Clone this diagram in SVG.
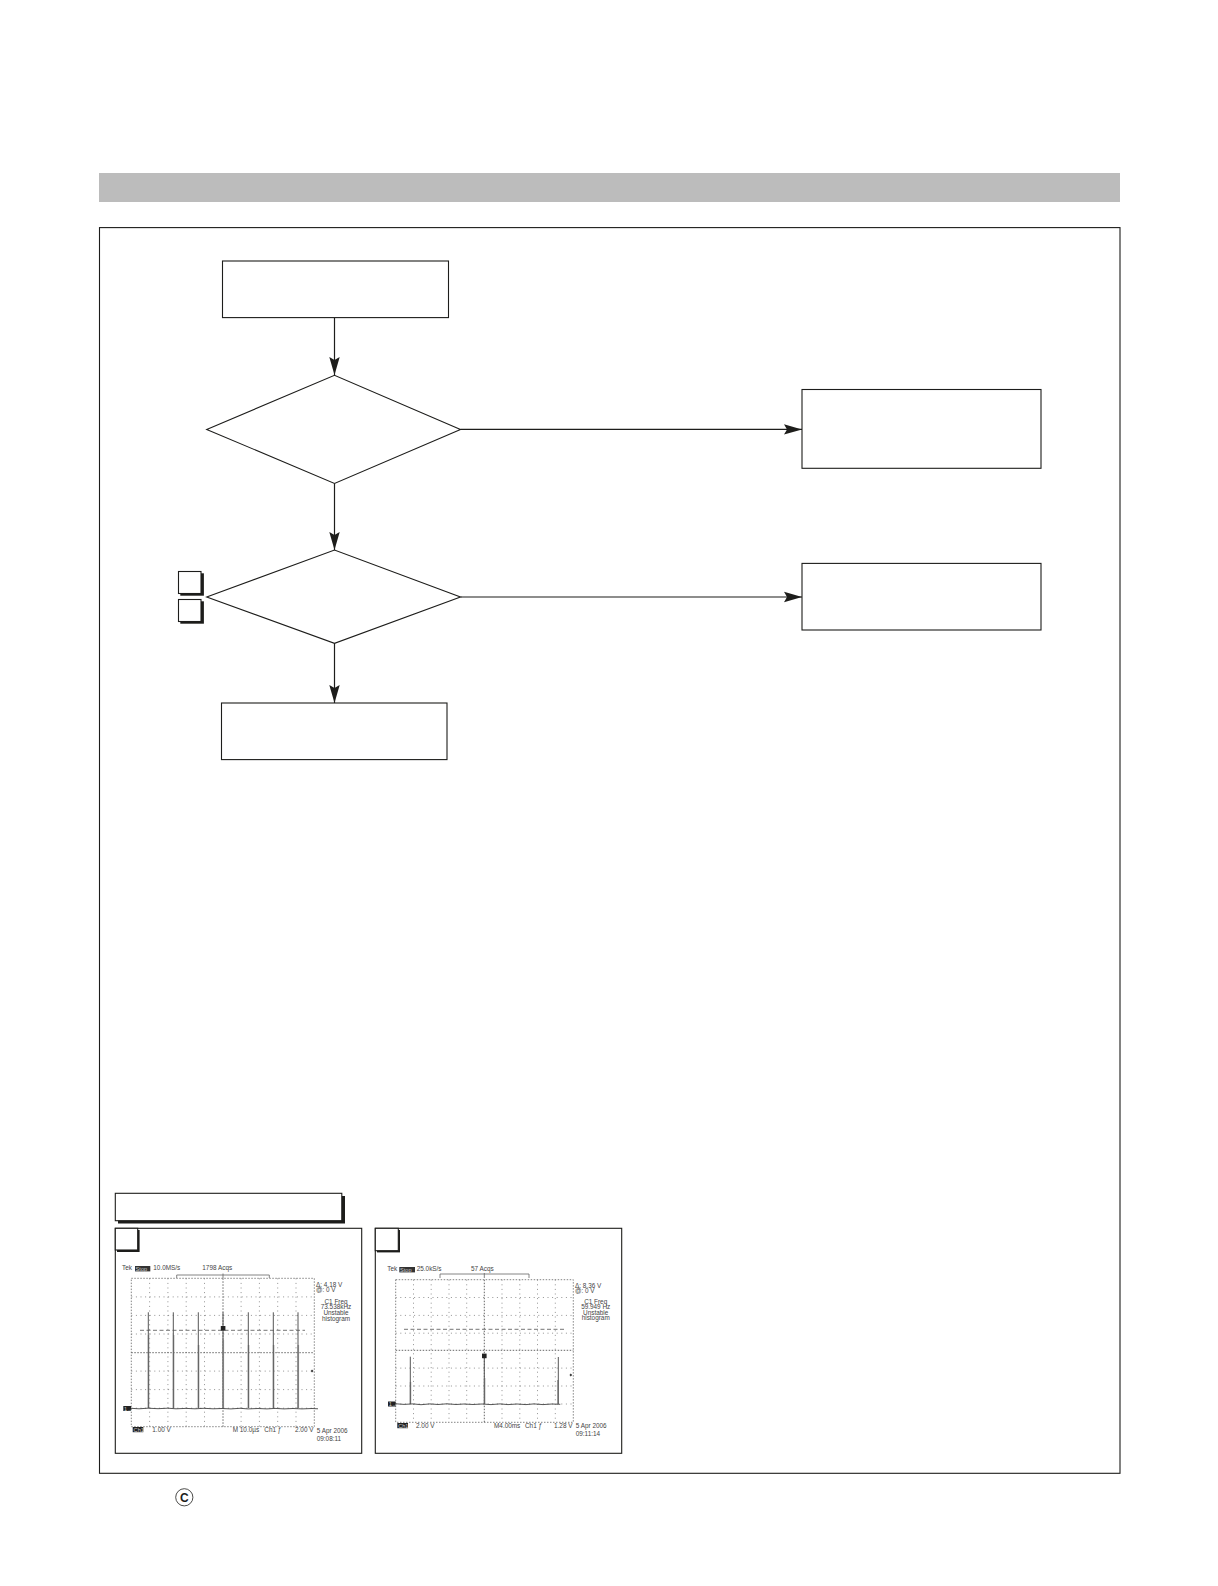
<svg xmlns="http://www.w3.org/2000/svg" width="1218" height="1586" viewBox="0 0 1218 1586">
<style>
.n{fill:#fff;stroke:#1d1d1b;stroke-width:1.1}
.s{fill:#1d1d1b;stroke:none}
.c{fill:none;stroke:#1d1d1b;stroke-width:1.2}
.g{fill:none;stroke:#777;stroke-width:.8;stroke-dasharray:1 3.6}
.m{fill:none;stroke:#555;stroke-width:.9;stroke-dasharray:1.5 1.5}
.b{fill:none;stroke:#666;stroke-width:.8}
.d{fill:none;stroke:#666;stroke-width:.9;stroke-dasharray:4 2.5}
.sp{fill:none;stroke:#555;stroke-width:1}
.sl{fill:none;stroke:#aaa;stroke-width:1.6}
.tr{fill:none;stroke:#444;stroke-width:.9}
.t{font-family:"Liberation Sans",Arial,sans-serif;font-size:6.4px;fill:#444}
.w{font-family:"Liberation Sans",Arial,sans-serif;font-size:5.6px;fill:#ccc}
.mid{text-anchor:middle}
</style>
<defs>
<marker id="ah" markerUnits="userSpaceOnUse" markerWidth="20" markerHeight="12" refX="18" refY="6" orient="auto">
<path d="M0 .8 L18 6 L0 11.2 L3 6Z" fill="#1d1d1b"/>
</marker>
</defs>
<rect id="band" x="99" y="173" width="1021" height="29" fill="#bcbcbc"/>
<rect id="frame" x="99.5" y="227.6" width="1020.5" height="1245.7" fill="none" stroke="#1d1d1b" stroke-width="1.1"/>
<g id="connectors">
<path class="c" d="M334.5 318V375" marker-end="url(#ah)"/>
<path class="c" d="M334.5 483.5V550" marker-end="url(#ah)"/>
<path class="c" d="M334.5 643V703" marker-end="url(#ah)"/>
<path class="c" d="M460.5 429.4H802" marker-end="url(#ah)"/>
<path class="c" d="M460.5 597H802" marker-end="url(#ah)"/>
</g>
<g id="start"><rect class="n" x="222.5" y="261" width="226" height="56.6"/></g>
<g id="decision1"><polygon class="n" points="206.7,429.4 334.5,375.3 460.5,429.4 334.5,483.5"/></g>
<g id="result1"><rect class="n" x="802" y="389.5" width="239" height="78.8"/></g>
<g id="decision2"><polygon class="n" points="206.7,597 334.5,550 460.5,597 334.5,643.3"/></g>
<g id="result2"><rect class="n" x="802" y="563.4" width="239" height="66.6"/></g>
<g id="end"><rect class="n" x="221.5" y="703" width="225.5" height="56.6"/></g>
<g id="tagA"><rect class="s" x="180.3" y="573.3" width="23.6" height="22.4"/><rect class="n" x="178.5" y="571.5" width="22.5" height="22"/></g>
<g id="tagB"><rect class="s" x="180.3" y="601.3" width="23.6" height="22.4"/><rect class="n" x="178.5" y="599.5" width="22.5" height="22"/></g>
<g id="waveHeader"><rect class="s" x="118" y="1196" width="227" height="27.5"/><rect class="n" x="115.3" y="1193.3" width="226.5" height="27.4"/></g>

<g id="scope1">
<rect class="n" x="115.3" y="1228.3" width="246.4" height="225"/>
<rect class="s" x="117" y="1230" width="22.6" height="22"/>
<rect x="115.3" y="1228.3" width="22.4" height="21.7" fill="#fff" stroke="#1d1d1b" stroke-width="1.1"/>
<path class="b" d="M131.3 1278.3H314.3V1426.7H131.3Z" stroke-dasharray="1.5 1.5"/>
<path class="g" d="M131.3 1296.9H314.3M131.3 1315.4H314.3M131.3 1334H314.3M131.3 1371.1H314.3M131.3 1389.6H314.3M131.3 1408.2H314.3M149.6 1278.3V1426.7M167.9 1278.3V1426.7M186.2 1278.3V1426.7M204.5 1278.3V1426.7M241.1 1278.3V1426.7M259.4 1278.3V1426.7M277.7 1278.3V1426.7M296 1278.3V1426.7"/>
<path class="m" d="M131.3 1352.7H314.3M223 1278.3V1426.7"/>
<path class="d" d="M140 1330.3H305"/>
<path class="sl" d="M148.6 1408V1335M173.6 1408V1335M198.6 1408V1345M223.3 1408V1340M248.6 1408V1345M273.6 1408V1345M298.3 1408V1345"/>
<path class="sp" d="M148.3 1312.3V1408M173.3 1312.3V1408M198.3 1312.3V1408M223 1312.3V1408M248.3 1312.3V1408M273.3 1312.3V1408M298 1312.3V1408"/>
<path class="tr" d="M131 1408.3l8 .5 9-.6 10 .5 10-.5 8 .6 10-.4 9 .4 9-.5 9 .5 9-.3 9 .4 9-.6 8 .6 10-.4 9 .4 8-.5 9 .5 9-.4 9 .4 10-.4 6 .3"/>
<path class="b" d="M176.7 1278V1275H269.3V1278M223 1273.5V1278"/>
<text class="t" x="122" y="1270">Tek</text><rect x="135" y="1266" width="15.3" height="5.4" fill="#333"/><text class="w" x="135.6" y="1270.8">Stop</text>
<text class="t" x="153.3" y="1270">10.0MS/s</text>
<text class="t" x="202.3" y="1270">1798 Acqs</text>
<text class="t" x="316" y="1286.5">Δ: 4.18 V</text>
<text class="t" x="316" y="1292">@: 0 V</text>
<text class="t mid" x="336" y="1303.8">C1 Freq</text>
<text class="t mid" x="336" y="1309.3">73.538kHz</text>
<text class="t mid" x="336" y="1314.9">Unstable</text>
<text class="t mid" x="336" y="1320.5">histogram</text>
<rect x="123.3" y="1406" width="7.7" height="5" fill="#222"/><text class="w" x="124" y="1410.6">1→</text>
<rect x="220.8" y="1326" width="4.6" height="4.6" fill="#222"/>
<path d="M312 1369.6l1.5 1.5-1.5 1.5-1.2-1.5z" fill="#333"/>
<rect x="132.7" y="1427" width="10.6" height="5.2" fill="#222"/><text class="w" x="133.6" y="1431.8">Ch1</text>
<text class="t" x="152.3" y="1431.8">1.00 V</text>
<text class="t" x="232.7" y="1431.8">M 10.0µs</text>
<text class="t" x="264.3" y="1431.8">Ch1 ƒ</text>
<text class="t" x="295" y="1431.8">2.00 V</text>
<text class="t" x="316.7" y="1433">5 Apr 2006</text>
<text class="t" x="316.7" y="1441">09:08:11</text>
</g>

<g id="scope2">
<rect class="n" x="375.3" y="1228.3" width="246.4" height="225"/>
<rect class="s" x="377" y="1230" width="23" height="22.4"/>
<rect x="375.3" y="1228.3" width="23" height="22.4" fill="#fff" stroke="#1d1d1b" stroke-width="1.1"/>
<path class="b" d="M395.7 1279.7H573.3V1422.3H395.7Z" stroke-dasharray="1.5 1.5"/>
<path class="g" d="M395.7 1297.5H573.3M395.7 1315.4H573.3M395.7 1333.2H573.3M395.7 1368.1H573.3M395.7 1386H573.3M395.7 1404H573.3M413.5 1279.7V1422.3M431.2 1279.7V1422.3M449 1279.7V1422.3M466.7 1279.7V1422.3M502 1279.7V1422.3M519.8 1279.7V1422.3M537.5 1279.7V1422.3M555.3 1279.7V1422.3"/>
<path class="m" d="M395.7 1350.3H573.3M484.3 1279.7V1422.3"/>
<path class="d" d="M404 1329.3H564"/>
<path class="sl" d="M410.5 1404V1382M484.6 1404V1378M557.8 1404V1380"/>
<path class="sp" d="M410.3 1356.7V1404M484.3 1358V1404M558.3 1357V1404"/>
<path class="tr" d="M396 1403.8l8 .6 9-.5 8 .8 9-.8 8 .6 9-.7 9 .7 8-.5 9 .5 9-.5 9 .6 9-.7 8 .7 9-.6 9 .6 8-.7 9 .7 9-.6 8.300 .3"/>
<path class="b" d="M440 1278V1274H529V1278M484.3 1273V1278"/>
<text class="t" x="387.3" y="1271">Tek</text><rect x="399.3" y="1267" width="15.700" height="5.4" fill="#333"/><text class="w" x="400" y="1271.800">Stop</text>
<text class="t" x="416.700" y="1271">25.0kS/s</text>
<text class="t" x="471" y="1271">57 Acqs</text>
<text class="t" x="575" y="1287.500">Δ: 8.36 V</text>
<text class="t" x="575" y="1293">@: 0 V</text>
<text class="t mid" x="595.700" y="1303.800">C1 Freq</text>
<text class="t mid" x="595.700" y="1309.300">59.949 Hz</text>
<text class="t mid" x="595.700" y="1314.800">Unstable</text>
<text class="t mid" x="595.700" y="1320.300">histogram</text>
<rect x="388" y="1401.500" width="7.700" height="5" fill="#222"/><text class="w" x="388.700" y="1406">1→</text>
<rect x="482" y="1353.600" width="4.600" height="4.600" fill="#222"/>
<path d="M570.700 1373.500l1.500 1.500-1.500 1.500-1.200-1.500z" fill="#333"/>
<rect x="397.300" y="1423" width="10.700" height="5.200" fill="#222"/><text class="w" x="398.200" y="1427.700">Ch1</text>
<text class="t" x="416" y="1427.500">2.00 V</text>
<text class="t" x="494" y="1427.500">M4.00ms</text>
<text class="t" x="525" y="1427.500">Ch1 ƒ</text>
<text class="t" x="554" y="1427.500">1.28 V</text>
<text class="t" x="575.700" y="1428">5 Apr 2006</text>
<text class="t" x="575.700" y="1436">09:11:14</text>
</g>

<g id="copyright">
<circle cx="184.300" cy="1497.300" r="8.600" fill="none" stroke="#1d1d1b" stroke-width=".8"/>
<text x="184.300" y="1501.600" text-anchor="middle" font-family="Liberation Sans, Arial, sans-serif" font-weight="700" font-size="12" fill="#1d1d1b">C</text>
</g>
</svg>
